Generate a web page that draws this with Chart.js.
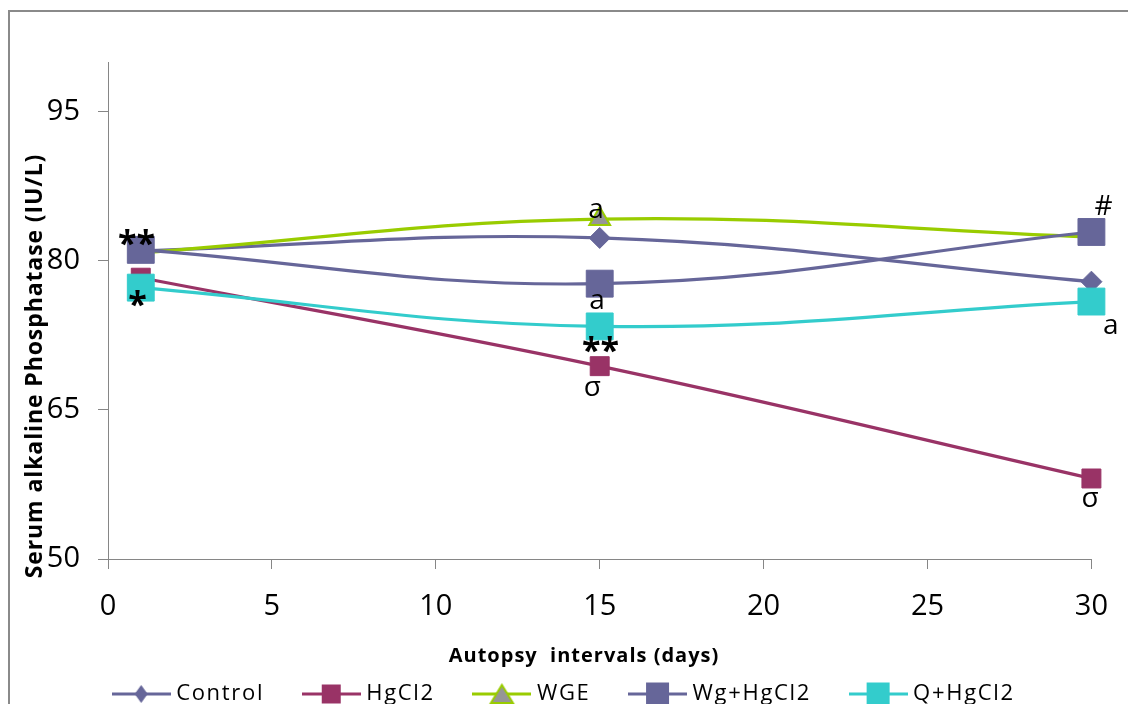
<!DOCTYPE html>
<html><head><meta charset="utf-8">
<script src="https://cdn.jsdelivr.net/npm/chart.js@4/dist/chart.umd.min.js"></script>
<style>html,body{margin:0;padding:0;background:#fff;overflow:hidden}</style>
</head><body>
<canvas id="c" width="1128" height="704"></canvas>
<script>
// ---- data ----
const days = [1, 15, 30];
const control = [81.0, 82.3, 77.9];
const hgcl2 = [78.3, 69.4, 58.1];
const wge = [80.8, 84.2, 82.4];
const wgHgcl2 = [81.1, 77.7, 82.9];
const qHgcl2 = [77.3, 73.4, 75.9];
const seriesNames = ['Control', 'HgCl2', 'WGE', 'Wg+HgCl2', 'Q+HgCl2'];
const xTicks = [0, 5, 10, 15, 20, 25, 30];
const yTicks = [50, 65, 80, 95];
const xTitle = 'Autopsy  intervals (days)';
const yTitle = 'Serum alkaline Phosphatase (IU/L)';
// significance marks: text, series index, point index
const markTexts = ['**', '*', 'a', 'a', '**', 'σ', '#', 'a', 'σ'];
const markSeries = [3, 4, 2, 3, 4, 1, 3, 4, 1];
const markPoints = [0, 0, 1, 1, 1, 1, 2, 2, 2];

// ---- styles ----
const markOffsets = [[-4,-12],[-3,10.5],[-4,-9],[-3,18],[1,18],[-7,22],[12,-27],[19,25],[-1,21]];
const FONT = "'Open Sans', 'DejaVu Sans', sans-serif";
const AX = '#868686';
const styles = [
  {color:'#666699', fill:'#666699', pstyle:'rectRot', r:10.5, bw:1, legend:{shape:'diamond', w:13, h:18}},
  {color:'#993366', fill:'#993366', pstyle:'rect', r:13.4, bw:1, legend:{shape:'rect', w:19, h:19}},
  {color:'#99CC00', fill:'#969696', pstyle:'triangle', r:12, bw:2, legend:{shape:'tri', w:22, h:18}},
  {color:'#666699', fill:'#666699', pstyle:'rect', r:19, bw:1, legend:{shape:'rect', w:23, h:23}},
  {color:'#33CCCC', fill:'#33CCCC', pstyle:'rect', r:19, bw:1, legend:{shape:'rect', w:23, h:23}}
];
const values = [control, hgcl2, wge, wgHgcl2, qHgcl2];

function makeIcon(st) {
  const c = document.createElement('canvas');
  c.width = 59; c.height = 26;
  const g = c.getContext('2d');
  const cy = 13, cx = 29.5;
  g.strokeStyle = st.color; g.lineWidth = 3;
  g.beginPath(); g.moveTo(0, cy); g.lineTo(59, cy); g.stroke();
  const L = st.legend;
  g.fillStyle = st.fill;
  g.beginPath();
  if (L.shape === 'diamond') {
    g.moveTo(cx, cy - L.h/2); g.lineTo(cx + L.w/2, cy); g.lineTo(cx, cy + L.h/2); g.lineTo(cx - L.w/2, cy); g.closePath();
    g.fill();
  } else if (L.shape === 'rect') {
    g.rect(cx - L.w/2, cy - L.h/2, L.w, L.h); g.fill();
  } else {
    g.moveTo(cx, cy - L.h/2); g.lineTo(cx + L.w/2, cy + L.h/2); g.lineTo(cx - L.w/2, cy + L.h/2); g.closePath();
    g.fill(); g.strokeStyle = st.color; g.lineWidth = 2; g.stroke();
  }
  return c;
}
const icons = styles.map(makeIcon);

const datasets = seriesNames.map((name, i) => ({
  label: name,
  data: days.map((d, k) => ({x: d, y: values[i][k]})),
  borderColor: styles[i].color,
  borderWidth: 3.2,
  backgroundColor: styles[i].fill,
  pointStyle: styles[i].pstyle,
  pointRadius: styles[i].r,
  pointHoverRadius: styles[i].r,
  pointBorderColor: styles[i].color,
  pointBackgroundColor: styles[i].fill,
  pointBorderWidth: styles[i].bw,
  tension: 0.4,
  fill: false,
  clip: false,
  order: seriesNames.length - i
}));

const decor = {
  id: 'decor',
  beforeDraw(chart) {
    const ctx = chart.ctx;
    ctx.save();
    ctx.fillStyle = '#fff'; ctx.fillRect(0, 0, chart.width, chart.height);
    ctx.strokeStyle = '#8a8a8a'; ctx.lineWidth = 2;
    ctx.strokeRect(9, 11, 1300, 1000);
    ctx.restore();
  },
  afterDraw(chart) {
    const ctx = chart.ctx;
    ctx.save();
    ctx.fillStyle = '#000';
    ctx.letterSpacing = '1px';
    ctx.font = "bold 20px " + FONT;
    ctx.textAlign = 'center'; ctx.textBaseline = 'alphabetic';
    ctx.fillText(xTitle, 584, 662);
    ctx.translate(42, 366); ctx.rotate(-Math.PI/2);
    ctx.font = "bold 23px " + FONT;
    ctx.letterSpacing = '0.9px';
    ctx.fillText(yTitle, 0, 0);
    ctx.restore();
  },
  afterDatasetsDraw(chart) {
    const ctx = chart.ctx;
    ctx.save();
    ctx.fillStyle = '#000';
    ctx.textAlign = 'left'; ctx.textBaseline = 'alphabetic';
    markTexts.forEach((t, i) => {
      const pt = chart.getDatasetMeta(markSeries[i]).data[markPoints[i]];
      const cx = pt.x + markOffsets[i][0], cy = pt.y + markOffsets[i][1];
      ctx.font = (t.indexOf('*') >= 0 ? "bold 34px " : "28px ") + FONT;
      const m = ctx.measureText(t);
      const w = m.actualBoundingBoxRight + m.actualBoundingBoxLeft;
      const h = m.actualBoundingBoxAscent + m.actualBoundingBoxDescent;
      ctx.fillText(t, cx - w/2 + m.actualBoundingBoxLeft, cy - h/2 + m.actualBoundingBoxAscent);
    });
    ctx.restore();
  }
};

const chart = new Chart(document.getElementById('c'), {
  type: 'line',
  data: { datasets },
  plugins: [decor],
  options: {
    responsive: false,
    animation: false,
    devicePixelRatio: 1,
    layout: { padding: { top: 62, right: 36, left: 0, bottom: -11 } },
    plugins: {
      tooltip: { enabled: false },
      legend: {
        position: 'bottom', align: 'center',
        labels: {
          usePointStyle: true, pointStyleWidth: 48, padding: 43,
          color: '#000', font: { family: FONT, size: 22 },
          sort: (a, b) => a.datasetIndex - b.datasetIndex,
          generateLabels(chart) {
            const items = Chart.defaults.plugins.legend.labels.generateLabels(chart);
            items.forEach(it => { it.pointStyle = icons[it.datasetIndex]; it.rotation = 0; });
            return items;
          }
        }
      }
    },
    scales: {
      x: {
        type: 'linear', min: 0, max: 30,
        afterBuildTicks: s => { s.ticks = xTicks.map(v => ({value: v})); },
        afterFit: s => { s.height = 81; },
        ticks: { color: '#000', font: { family: FONT, size: 29 }, padding: 20, maxRotation: 0, autoSkip: false },
        grid: { drawOnChartArea: false, drawTicks: true, tickLength: 10, color: AX },
        border: { color: AX, width: 1 }
      },
      y: {
        type: 'linear', min: 50, max: 100,
        afterBuildTicks: s => { s.ticks = yTicks.map(v => ({value: v})); },
        afterFit: s => { s.width = 108; },
        ticks: { color: '#000', font: { family: FONT, size: 29 }, padding: 18, autoSkip: false },
        grid: { drawOnChartArea: false, drawTicks: true, tickLength: 10, color: AX },
        border: { color: AX, width: 1 }
      }
    }
  }
});

// legend text uses wider letter spacing, like the original, and sits centred on the page
const lg = chart.legend;
if (lg) {
  const origFit = lg.fit, origDraw = lg.draw;
  lg.fit = function () { const c = this.ctx; const p = c.letterSpacing; c.letterSpacing = '1.7px'; origFit.apply(this, arguments); c.letterSpacing = p; };
  lg.draw = function () { const c = this.ctx; c.save(); c.letterSpacing = '1.7px'; c.translate(20, 0); origDraw.apply(this, arguments); c.restore(); };
  chart.update();
}
</script>
</body></html>
